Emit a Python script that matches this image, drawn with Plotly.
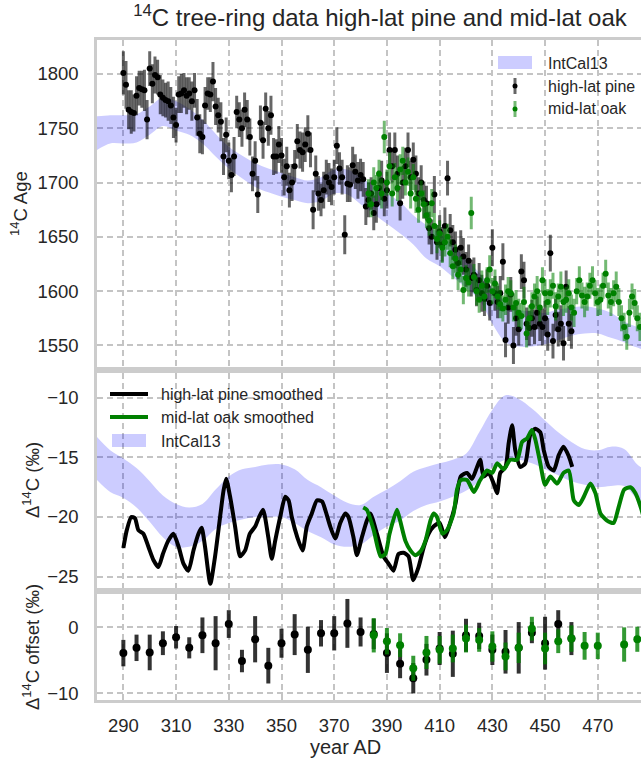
import plotly.graph_objects as go

# ---------------- data ----------------
pine_years = list(range(290, 461))
pine_age = [
    1801, 1790, 1767, 1765, 1764, 1780, 1787, 1786, 1785, 1758,
    1805, 1791, 1799, 1797, 1781, 1778, 1776, 1775, 1771, 1760,
    1753, 1781, 1782, 1785, 1780, 1782, 1775, 1785, 1760, 1745,
    1742, 1771, 1782, 1781, 1793, 1770, 1762, 1756, 1724, 1744,
    1720, 1707, 1724, 1765, 1758, 1750, 1767, 1758, 1742, 1708,
    1720, 1689, 1755, 1739, 1768, 1750, 1762, 1724, 1724, 1735,
    1725, 1705, 1715, 1693, 1700, 1715, 1738, 1730, 1728, 1735,
    1745, 1730, 1675, 1708, 1690, 1684, 1693, 1705, 1700, 1696,
    1705, 1734, 1713, 1705, 1652, 1699, 1698, 1716, 1710, 1702,
    1707, 1703, 1678, 1684, 1690, 1672, 1680, 1695, 1702, 1685,
    1693, 1730, 1715, 1730, 1708, 1681, 1700, 1715, 1730, 1705,
    1721, 1708, 1690, 1700, 1684, 1681, 1658, 1650, 1689, 1645,
    1655, 1643, 1660, 1704, 1656, 1645, 1638, 1626, 1640, 1632,
    1620, 1628, 1612, 1615, 1601, 1610, 1598, 1593, 1605, 1589,
    1640, 1598, 1590, 1598, 1627, 1555, 1585, 1597, 1550, 1575,
    1565, 1618, 1610, 1570, 1566, 1575, 1567, 1580, 1570, 1567,
    1575, 1560, 1635, 1554, 1578, 1565, 1570, 1552, 1604, 1570,
    1563,
]
pine_err = [
    20, 22, 18, 20, 17, 18, 16, 17, 19, 18,
    16, 18, 17, 16, 18, 17, 16, 18, 17, 19,
    16, 17, 18, 16, 17, 15, 18, 16, 17, 18,
    16, 17, 15, 16, 18, 17, 16, 18, 17, 16,
    17, 16, 18, 15, 16, 17, 16, 18, 17, 16,
    18, 17, 16, 17, 15, 16, 18, 17, 16, 17,
    16, 17, 18, 16, 17, 15, 16, 17, 18, 16,
    17, 16, 18, 17, 16, 15, 17, 16, 18, 17,
    16, 17, 15, 16, 18, 17, 16, 17, 16, 17,
    15, 16, 17, 16, 15, 16, 17, 16, 18, 16,
    17, 16, 15, 16, 17, 16, 15, 17, 16, 15,
    16, 17, 15, 16, 17, 16, 15, 16, 17, 16,
    15, 16, 17, 16, 15, 16, 17, 15, 16, 17,
    16, 15, 17, 16, 15, 16, 17, 16, 15, 16,
    17, 16, 15, 16, 17, 16, 15, 16, 17, 16,
    15, 16, 17, 15, 16, 17, 16, 15, 16, 17,
    16, 15, 17, 16, 15, 16, 17, 16, 15, 16,
    16,
]

oak_years = list(range(383, 487))
oak_age = [
    1690, 1680, 1700, 1695, 1708, 1690, 1742, 1700, 1715, 1690,
    1705, 1695, 1712, 1720, 1700, 1710, 1690, 1705, 1685, 1675,
    1690, 1680, 1670, 1665, 1681, 1660, 1648, 1653, 1640, 1645,
    1650, 1635, 1623, 1630, 1615, 1620, 1601, 1612, 1608, 1672,
    1613, 1600, 1592, 1605, 1595, 1610, 1620, 1600, 1607, 1595,
    1588, 1584, 1592, 1600, 1598, 1585, 1589, 1580, 1577, 1590,
    1561, 1575, 1586, 1595, 1600, 1585, 1610, 1598, 1590, 1598,
    1605, 1586, 1595, 1604, 1590, 1592, 1598, 1585, 1580, 1600,
    1610, 1596, 1590, 1595, 1605, 1610, 1598, 1590, 1592, 1605,
    1616, 1596, 1590, 1598, 1604, 1590, 1575, 1567, 1558, 1580,
    1595, 1589, 1575, 1567,
]
oak_err = [
    13, 12, 14, 12, 13, 14, 15, 12, 13, 12,
    13, 12, 14, 13, 12, 13, 14, 12, 13, 12,
    12, 13, 12, 14, 13, 12, 13, 12, 14, 13,
    12, 13, 12, 13, 14, 12, 13, 12, 13, 15,
    12, 13, 12, 14, 13, 12, 13, 12, 13, 12,
    13, 12, 14, 13, 12, 13, 12, 13, 12, 14,
    13, 12, 13, 12, 14, 13, 12, 13, 12, 13,
    12, 13, 12, 14, 13, 12, 13, 12, 13, 12,
    13, 12, 14, 13, 12, 13, 12, 13, 14, 12,
    13, 12, 13, 12, 14, 13, 12, 13, 12, 13,
    12, 13, 12, 13,
]

intcal_years = list(range(280, 495, 5))
intcal_age_hi = [1761, 1762, 1762, 1763, 1770, 1778, 1775, 1768, 1758, 1745,
                 1733, 1725, 1718, 1713, 1709, 1705, 1702, 1705, 1712, 1712,
                 1705, 1697, 1690, 1682, 1670, 1661, 1653, 1642, 1630, 1617,
                 1603, 1590, 1583, 1581, 1580, 1583, 1585, 1586, 1584, 1580,
                 1572, 1567, 1563]
intcal_age_lo = [1730, 1736, 1736, 1737, 1744, 1752, 1748, 1744, 1736, 1724,
                 1713, 1704, 1696, 1691, 1687, 1684, 1681, 1683, 1690, 1689,
                 1680, 1671, 1662, 1653, 1643, 1630, 1623, 1613, 1603, 1592,
                 1570, 1553, 1549, 1549, 1551, 1555, 1559, 1561, 1561, 1557,
                 1553, 1548, 1545]
intcal_d14c_hi = [-13.3, -14.4, -15.1, -15.9, -17.0, -18.2, -18.9, -19.2, -18.9, -17.7,
                  -16.6, -16.0, -15.8, -15.6, -15.6, -16.0, -16.9, -17.5, -18.2, -18.8,
                  -19.0, -18.3, -17.7, -17.0, -16.2, -15.8, -15.5, -15.2, -14.7, -12.9,
                  -11.0, -9.8, -10.1, -10.9, -11.9, -12.9, -13.7, -14.3, -14.4, -14.1,
                  -14.3, -15.6, -16.5]
intcal_d14c_lo = [-16.9, -17.9, -18.4, -19.2, -20.4, -21.7, -22.5, -22.5, -22.0, -21.0,
                  -20.5, -20.2, -20.0, -20.0, -20.0, -20.5, -21.2, -21.7, -22.3, -22.5,
                  -22.3, -21.5, -20.8, -20.3, -19.5, -19.0, -18.7, -18.3, -17.8, -17.0,
                  -15.8, -15.2, -15.2, -15.5, -16.0, -16.5, -17.0, -17.3, -17.5, -17.4,
                  -17.4, -18.5, -19.2]

pine_sm_years = [290, 291.3, 293, 294.4, 295.7, 297.6, 299.5, 301.4, 303.3, 305,
                 307, 309, 311, 312.8, 314.7, 316.6, 318.5, 319.7, 321, 323,
                 324.8, 326.7, 328, 329, 330.5, 332.4, 334.3, 336.2, 338, 340,
                 341.5, 343, 345, 346.3, 347.6, 349.5, 351.4, 352.7, 353.9, 356,
                 358, 359.6, 361.5, 363.5, 365.4, 366.6, 368.5, 370.4, 372.3, 374.2,
                 375.4, 377.3, 378.6, 380.5, 382.4, 383.7, 386.2, 388.7, 390.6, 392.5,
                 394.4, 396.3, 398.2, 400, 402, 404, 405.8, 407.7, 410, 412,
                 414, 416, 418, 420.4, 422.3, 424.2, 425.4, 426.7, 428.6, 430.5,
                 431.8, 433, 435, 436.2, 437.5, 438.7, 440.6, 442.5, 444.4, 446.3,
                 448.2, 449.5, 451.4, 453.3, 455.2, 457, 459, 460.3]
pine_sm = [-22.6, -21.1, -20.0, -20.1, -21.1, -21.4, -22.5, -23.6, -24.2, -23.1,
           -22.0, -21.4, -22.5, -23.9, -24.5, -22.8, -21.4, -20.9, -22.5, -25.6,
           -23.3, -20.0, -17.8, -16.8, -18.3, -20.8, -23.3, -22.8, -21.4, -20.8,
           -20.0, -19.4, -21.7, -23.5, -22.0, -20.0, -18.3, -18.6, -20.0, -21.7,
           -22.8, -20.8, -19.7, -18.6, -18.7, -19.4, -20.8, -21.8, -20.5, -19.7,
           -20.0, -21.7, -23.2, -21.7, -20.3, -19.7, -21.4, -23.3, -23.9, -24.5,
           -23.1, -23.0, -23.3, -25.3, -24.2, -22.5, -21.4, -20.8, -20.5, -21.7,
           -20.5, -18.9, -16.6, -16.3, -16.8, -15.8, -15.2, -16.6, -16.3, -17.2,
           -18.0, -16.3, -15.8, -13.8, -12.3, -14.4, -15.8, -15.5, -13.1, -12.6,
           -12.9, -14.4, -15.8, -16.1, -14.8, -14.1, -14.9, -15.8]

oak_sm_years = [381, 382.4, 385, 387.6, 389.4, 391, 393.8, 395, 397, 398.9,
                400.8, 402.7, 404.6, 406.5, 407.7, 409, 411, 412.8, 415.3, 416.6,
                418, 420.4, 423, 425.4, 428, 430, 431.8, 434.3, 436.8, 439.4,
                441.3, 443.2, 445, 446.3, 448.2, 450, 452, 454.6, 457, 459,
                460.9, 462.8, 464.7, 467.2, 469.1, 471, 473.5, 476, 478, 480,
                482.4, 484.3, 486.2, 488]
oak_sm = [-19.2, -19.4, -21.1, -23.3, -23.1, -21.4, -19.4, -20.3, -22.0, -22.8,
          -23.2, -22.9, -22.0, -20.3, -19.7, -20.0, -21.4, -21.1, -19.7, -17.7,
          -16.9, -16.9, -17.9, -16.9, -16.1, -16.3, -15.5, -16.0, -15.2, -15.2,
          -13.7, -13.4, -12.7, -13.5, -15.5, -17.3, -16.6, -17.2, -16.3, -16.1,
          -18.6, -19.0, -18.3, -17.2, -18.0, -19.7, -20.3, -20.5, -19.1, -17.7,
          -17.5, -18.0, -19.1, -20.5]

pine_off_years = list(range(290, 461, 5))
pine_off = [-3.9, -3.1, -3.8, -2.4, -1.5, -3.1, -1.2, -2.4, 0.5, -5.1,
            -1.8, -5.8, -2.4, -1.1, -3.4, -0.9, -0.9, 0.6, -0.7, -1.0,
            -3.9, -5.5, -7.7, -4.9, -3.2, -4.0, -1.2, -1.3, -3.4, -3.7,
            -3.1, -0.8, -2.4, 0.5, -1.7]
pine_off_err = [2.0, 2.0, 2.7, 1.8, 1.7, 1.6, 2.7, 4.1, 2.1, 1.7,
                3.5, 2.7, 2.2, 3.1, 3.5, 2.0, 2.6, 3.7, 2.2, 2.3,
                3.0, 2.2, 2.3, 2.4, 2.5, 3.5, 2.5, 2.0, 2.3, 3.3,
                3.9, 1.6, 4.0, 2.1, 2.5]
oak_off_years = [385, 390, 395, 400, 405, 410, 415, 420, 425, 430,
                 435, 440, 445, 450, 455, 460, 465, 470, 480, 485]
oak_off = [-1.2, -2.1, -2.7, -6.2, -3.8, -3.4, -3.2, -1.7, -1.9, -2.9,
           -4.4, -3.1, -0.2, -3.2, -2.1, -1.7, -2.8, -2.8, -2.6, -1.8]
oak_off_err = [2.6, 2.0, 1.8, 1.9, 2.5, 2.1, 2.1, 2.1, 1.8, 2.3,
               2.1, 2.3, 1.8, 2.4, 1.8, 2.0, 2.1, 2.0, 2.6, 1.9]

# ---------------- style ----------------
BAND = "rgba(0,0,255,0.2)"
GREEN = "#008000"
FONT = "Liberation Sans, Arial, sans-serif"
TXT = "#262626"
W, H = 641, 764
ML, MT, MB = 97, 40, 64
PW, PH = W - ML, H - MT - MB


def px(x):
    return (x - ML) / PW


def py(y):
    return 1 - (y - MT) / PH


fig = go.Figure()

# ---- top panel ----
fig.add_trace(go.Scatter(
    x=intcal_years + intcal_years[::-1],
    y=intcal_age_hi + intcal_age_lo[::-1],
    fill="toself", fillcolor=BAND, line=dict(width=0, shape="spline"),
    mode="lines", hoverinfo="skip", xaxis="x", yaxis="y", showlegend=False))
fig.add_trace(go.Scatter(
    x=pine_years, y=pine_age, mode="markers",
    marker=dict(color="black", size=6),
    error_y=dict(type="data", array=pine_err, color="rgba(0,0,0,0.6)",
                 thickness=3, width=0),
    xaxis="x", yaxis="y", showlegend=False))
fig.add_trace(go.Scatter(
    x=oak_years, y=oak_age, mode="markers",
    marker=dict(color=GREEN, size=6),
    error_y=dict(type="data", array=oak_err, color="rgba(0,128,0,0.55)",
                 thickness=3, width=0),
    xaxis="x", yaxis="y", showlegend=False))

# ---- middle panel ----
fig.add_trace(go.Scatter(
    x=intcal_years + intcal_years[::-1],
    y=intcal_d14c_hi + intcal_d14c_lo[::-1],
    fill="toself", fillcolor=BAND, line=dict(width=0, shape="spline"),
    mode="lines", hoverinfo="skip", xaxis="x2", yaxis="y2", showlegend=False))
fig.add_trace(go.Scatter(
    x=pine_sm_years, y=pine_sm, mode="lines",
    line=dict(color="black", width=4, shape="spline", smoothing=0.6),
    xaxis="x2", yaxis="y2", showlegend=False))
fig.add_trace(go.Scatter(
    x=oak_sm_years, y=oak_sm, mode="lines",
    line=dict(color=GREEN, width=4, shape="spline", smoothing=0.6),
    xaxis="x2", yaxis="y2", showlegend=False))

# ---- bottom panel ----
fig.add_trace(go.Scatter(
    x=pine_off_years, y=pine_off, mode="markers",
    marker=dict(color="black", size=8),
    error_y=dict(type="data", array=pine_off_err, color="rgba(0,0,0,0.8)",
                 thickness=4, width=0),
    xaxis="x3", yaxis="y3", showlegend=False))
fig.add_trace(go.Scatter(
    x=oak_off_years, y=oak_off, mode="markers",
    marker=dict(color=GREEN, size=8),
    error_y=dict(type="data", array=oak_off_err, color="rgba(0,128,0,0.8)",
                 thickness=4, width=0),
    xaxis="x3", yaxis="y3", showlegend=False))

grid = dict(showgrid=True, gridcolor="#c4c4c4", gridwidth=1.5, griddash="6px,4px",
            zeroline=False, ticks="", tickfont=dict(size=18.5, color=TXT, family=FONT))
frame = dict(showline=True, linecolor="#cccccc", linewidth=2.5)

xcommon = dict(range=[280, 486.4], tick0=290, dtick=20, domain=[0, 1], **grid, **frame, mirror=True)

fig.update_layout(
    width=W, height=H,
    margin=dict(l=ML, r=0, t=MT, b=MB),
    paper_bgcolor="white", plot_bgcolor="white",
    font=dict(family=FONT, color=TXT, size=16),
    showlegend=False,
    title=dict(text="<sup>14</sup>C tree-ring data high-lat pine and mid-lat oak",
               x=380 / W, xref="container", xanchor="center",
               y=1 - 18 / H, yref="container", yanchor="middle",
               font=dict(size=24, color=TXT, family=FONT)),
    xaxis=dict(anchor="y", showticklabels=False, **xcommon),
    xaxis2=dict(anchor="y2", showticklabels=False, matches="x", **xcommon),
    xaxis3=dict(anchor="y3", showticklabels=True, matches="x", ticklabelstandoff=7, **xcommon),
    yaxis=dict(domain=[0.505, 1], range=[1530.4, 1831.3], tick0=1550, dtick=50,
               anchor="x", ticklabelstandoff=12, **grid, **frame),
    yaxis2=dict(domain=[0.1692, 0.4959], range=[-25.98, -7.9], tick0=-25, dtick=5,
                anchor="x2", ticklabelstandoff=12, **grid, **frame),
    yaxis3=dict(domain=[0, 0.1606], range=[-11.0, 5.05], tick0=-10, dtick=10,
                anchor="x3", ticklabelstandoff=12, **grid, **frame),
)

ann = []
def label(text, cx, cy, angle=0, size=18.5, anchor="center"):
    ann.append(dict(text=text, x=px(cx), y=py(cy), xref="paper", yref="paper",
                    showarrow=False, textangle=angle, xanchor=anchor, yanchor="middle",
                    font=dict(size=size, color=TXT, family=FONT)))

label("<sup>14</sup>C Age", 19, 204, -90)
label("Δ<sup>14</sup>C (‰)", 31, 480, -90)
label("Δ<sup>14</sup>C offset (‰)", 31, 647, -90)
label("year AD", 345, 747, size=20)

# legend (top panel)
shapes = []
shapes.append(dict(type="rect", xref="paper", yref="paper", x0=px(498), x1=px(532),
                   y0=py(69), y1=py(56), fillcolor=BAND, line=dict(width=0)))
for cy, col, bar in [(86, "black", "rgba(0,0,0,0.6)"), (109, GREEN, "rgba(0,128,0,0.55)")]:
    shapes.append(dict(type="line", xref="paper", yref="paper", x0=px(515), x1=px(515),
                       y0=py(cy - 8), y1=py(cy + 8), line=dict(color=bar, width=3)))
    shapes.append(dict(type="circle", xref="paper", yref="paper", x0=px(512.5), x1=px(517.5),
                       y0=py(cy + 2.5), y1=py(cy - 2.5), fillcolor=col, line=dict(width=0)))
label("IntCal13", 546, 63, size=16, anchor="left")
label("high-lat pine", 546, 86, size=16, anchor="left")
label("mid-lat oak", 546, 109, size=16, anchor="left")

# legend (middle panel)
shapes.append(dict(type="line", xref="paper", yref="paper", x0=px(110), x1=px(148),
                   y0=py(394), y1=py(394), line=dict(color="black", width=4)))
shapes.append(dict(type="line", xref="paper", yref="paper", x0=px(110), x1=px(148),
                   y0=py(417), y1=py(417), line=dict(color=GREEN, width=4)))
shapes.append(dict(type="rect", xref="paper", yref="paper", x0=px(112), x1=px(146),
                   y0=py(447), y1=py(434), fillcolor=BAND, line=dict(width=0)))
label("high-lat pine smoothed", 159, 394, size=16, anchor="left")
label("mid-lat oak smoothed", 159, 417, size=16, anchor="left")
label("IntCal13", 159, 441, size=16, anchor="left")

fig.update_layout(annotations=ann, shapes=shapes)
fig.write_html("out.html")
